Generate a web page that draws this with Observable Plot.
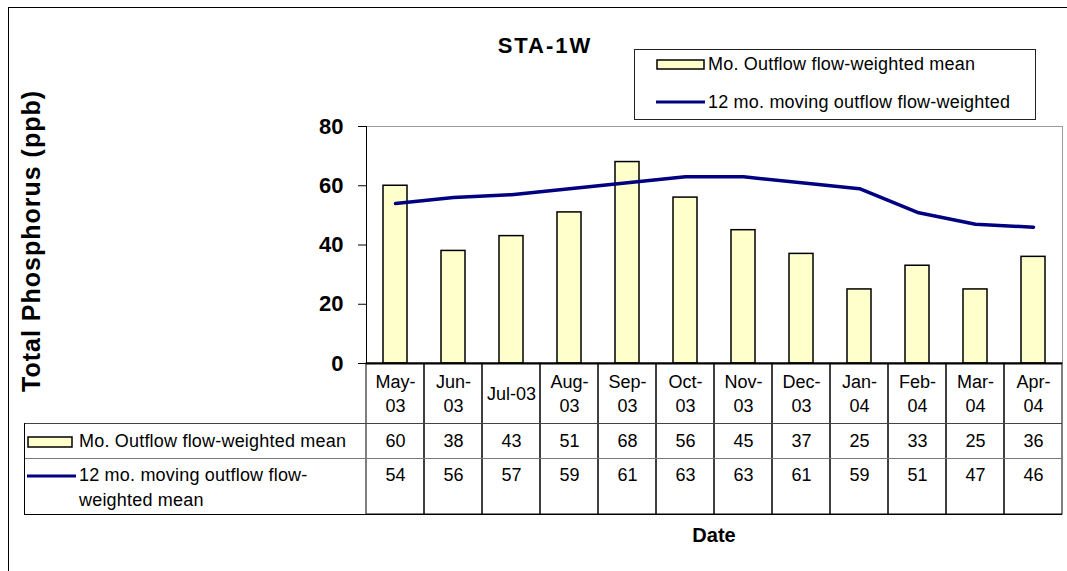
<!DOCTYPE html>
<html>
<head>
<meta charset="utf-8">
<script src="https://cdn.jsdelivr.net/npm/d3@7"></script>
<script src="https://cdn.jsdelivr.net/npm/@observablehq/plot@0.6"></script>
<style>
  html, body { margin: 0; padding: 0; background: #fff; }
  #wrap { position: relative; width: 1067px; height: 571px; overflow: hidden; background: #fff;
          font-family: "Liberation Sans", Arial, sans-serif; color: #000; }
  #wrap svg.plot { position: absolute; left: 0; top: 0; }
  .abs { position: absolute; white-space: nowrap; }
  .frame { position: absolute; left: 8px; top: 7px; width: 1200px; height: 700px;
           border-left: 1px solid #000; border-top: 1px solid #000; }
  .title { left: 0; width: 1090px; top: 33px; text-align: center; font-weight: bold; font-size: 22px; letter-spacing: 2px; }
  .ylab { left: 31px; top: 241px; transform: translate(-50%, -50%) rotate(-90deg); font-weight: bold; font-size: 25px; letter-spacing: 1px; }
  .xlab { left: 714px; top: 535px; transform: translate(-50%, -50%); font-weight: bold; font-size: 20px; }
  .legend { left: 634px; top: 49px; width: 402px; height: 71px; border: 1px solid #222; background: #fff; box-sizing: border-box; }
  .ltext { font-size: 18px; transform: translateY(-50%); letter-spacing: 0.2px; }
  .tbox { left: 24px; top: 423px; width: 342px; height: 91px; border-left: 1px solid #000; box-sizing: border-box; }
</style>
</head>
<body>
<div id="wrap">
  <div class="frame"></div>
</div>
<script>
// ---- data ----
const months = ["May-03","Jun-03","Jul-03","Aug-03","Sep-03","Oct-03","Nov-03","Dec-03","Jan-04","Feb-04","Mar-04","Apr-04"];
const monthLabels = ["May-\n03","Jun-\n03","Jul-03","Aug-\n03","Sep-\n03","Oct-\n03","Nov-\n03","Dec-\n03","Jan-\n04","Feb-\n04","Mar-\n04","Apr-\n04"];
const monthlyMean = [60, 38, 43, 51, 68, 56, 45, 37, 25, 33, 25, 36];
const movingMean = [54, 56, 57, 59, 61, 63, 63, 61, 59, 51, 47, 46];
const yTicks = [0, 20, 40, 60, 80];
const seriesNames = ["Mo. Outflow flow-weighted mean", "12 mo. moving outflow flow-weighted mean"];
const titleText = "STA-1W";
const yLabel = "Total Phosphorus (ppb)";
const xLabel = "Date";

const rows = months.map((m, i) => ({month: m, label: monthLabels[i], monthly: monthlyMean[i], moving: movingMean[i]}));

const barFill = "#FFFFCC";
const lineColor = "#000080";
const font = "'Liberation Sans', Arial, sans-serif";

const chart = Plot.plot({
  width: 1067,
  height: 571,
  marginLeft: 366,
  marginRight: 5,
  marginTop: 126,
  marginBottom: 208,
  style: {fontFamily: font, background: "transparent", color: "#000"},
  x: {domain: months, padding: 0, axis: null},
  y: {domain: [0, 80], axis: null},
  marks: [
    Plot.frame({anchor: "top", stroke: "#999"}),
    Plot.frame({anchor: "right", stroke: "#999"}),
    Plot.barY(rows, {x: "month", y: "monthly", fill: barFill, stroke: "#000", strokeWidth: 1.5, insetLeft: 17, insetRight: 17}),
    Plot.line(rows, {x: "month", y: "moving", stroke: lineColor, strokeWidth: 3.5}),
    Plot.axisY({ticks: yTicks, tickSize: 8, tickPadding: 15, fontSize: 22, fontWeight: "bold", label: null, tickFormat: d3.format("d")}),
    Plot.frame({anchor: "left", stroke: "#000"}),
    // data table grid
    Plot.cell(rows, {x: "month", fill: "none", stroke: "#000", strokeWidth: 1, insetTop: 237, insetBottom: -151}),
    Plot.ruleY([0], {dy: 60, insetLeft: -342, stroke: "#444"}),
    Plot.ruleY([0], {dy: 95, insetLeft: -342, stroke: "#777"}),
    Plot.ruleY([0], {dy: 151, insetLeft: -342, stroke: "#000"}),
    Plot.ruleY([0], {stroke: "#000", strokeWidth: 2}),
    Plot.text(rows, {x: "month", text: "label", frameAnchor: "bottom", dy: 28.5, fontSize: 18, lineHeight: 1.33, lineAnchor: "middle"}),
    Plot.text(rows, {x: "month", text: d => String(d.monthly), frameAnchor: "bottom", dy: 77.5, fontSize: 18, lineAnchor: "middle"}),
    Plot.text(rows, {x: "month", text: d => String(d.moving), frameAnchor: "bottom", dy: 112, fontSize: 18, lineAnchor: "middle"})
  ]
});
chart.classList.add("plot");
const wrap = document.getElementById("wrap");
wrap.insertBefore(chart, wrap.firstChild);

function add(cls, html, style) {
  const d = document.createElement("div");
  d.className = "abs " + cls;
  if (html != null) d.innerHTML = html;
  if (style) Object.assign(d.style, style);
  wrap.appendChild(d);
  return d;
}
function swatchRect(x, y, w, h) {
  return add("", `<svg width="${w + 2}" height="${h + 2}"><rect x="1" y="1" width="${w}" height="${h}" fill="${barFill}" stroke="#000" stroke-width="1.5"/></svg>`, {left: (x - 1) + "px", top: (y - 1) + "px", lineHeight: 0});
}
function swatchLine(x, y, w) {
  return add("", `<svg width="${w}" height="6"><line x1="0" x2="${w}" y1="3" y2="3" stroke="${lineColor}" stroke-width="3"/></svg>`, {left: x + "px", top: (y - 3) + "px", lineHeight: 0});
}

add("title", titleText);
add("ylab", yLabel);
add("xlab", xLabel);

// legend
add("legend");
swatchRect(657, 60, 47, 9);
add("ltext", seriesNames[0], {left: "708px", top: "64px"});
swatchLine(656, 102, 49);
add("ltext", "12 mo. moving outflow flow-weighted", {left: "708px", top: "102px"});

// data table legend column
add("tbox");
swatchRect(28, 437, 44, 10);
add("ltext", seriesNames[0], {left: "79px", top: "441px"});
swatchLine(27, 476, 49);
add("ltext", "12 mo. moving outflow flow-", {left: "79px", top: "475px"});
add("ltext", "weighted mean", {left: "79px", top: "500px"});
</script>
</body>
</html>
